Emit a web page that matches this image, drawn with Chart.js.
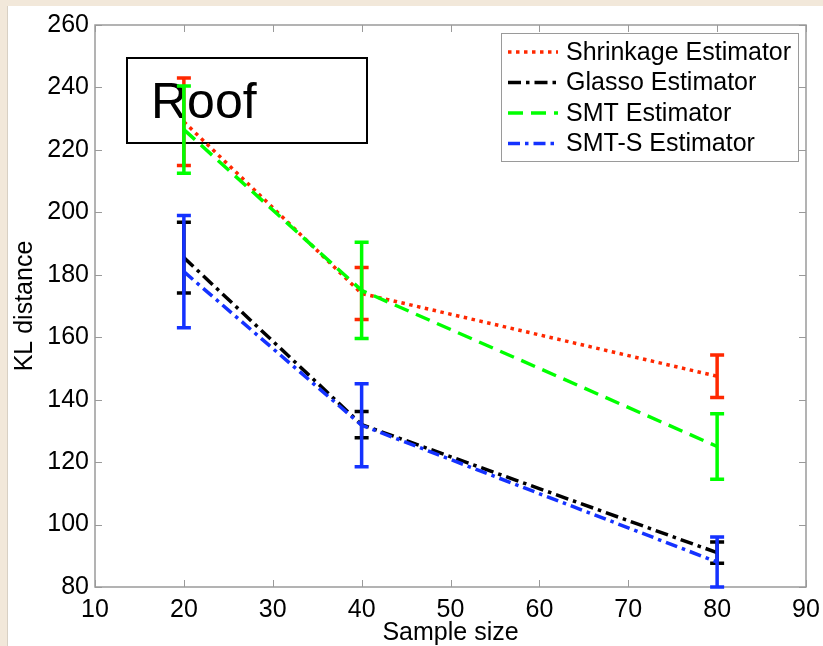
<!DOCTYPE html>
<html>
<head>
<meta charset="utf-8">
<script src="https://cdn.jsdelivr.net/npm/chart.js@4"></script>
<style>
  html, body { margin: 0; padding: 0; background: #f2e8da; }
  canvas { display: block; }
</style>
</head>
<body>
<canvas id="myChart1" width="823" height="646"></canvas>
<script>
// sample sizes and mean KL distance per estimator, with half-width of the error bars
const sampleSizes = [20, 40, 80];
const shrinkage = [229, 174, 147.5];
const shrinkageErr = [14, 8.3, 6.8];
const glasso = [185.5, 132, 91];
const glassoErr = [11.3, 4.2, 3.4];
const smt = [226.5, 175, 125];
const smtErr = [14, 15.4, 10.5];
const smtS = [181, 131.8, 88];
const smtSErr = [18, 13.3, 8];

const seriesNames = ['Shrinkage Estimator', 'Glasso Estimator', 'SMT Estimator', 'SMT-S Estimator'];
const xTicks = [10, 20, 30, 40, 50, 60, 70, 80, 90];
const yTicks = [80, 100, 120, 140, 160, 180, 200, 220, 240, 260];

const FONT = '"Liberation Sans", Arial, sans-serif';
const AXIS_GRAY = '#9a9a9a';

function points(ys) {
    return sampleSizes.map((x, i) => ({x: x, y: ys[i]}));
}

const styles = [
    {color: 'rgb(255,40,0)', dash: [3.5, 4.5]},
    {color: '#000000', dash: [13, 5, 3.5, 5]},
    {color: 'rgb(0,255,0)', dash: [15, 8]},
    {color: 'rgb(20,50,255)', dash: [12, 5, 3.5, 5]}
];
const errors = [shrinkageErr, glassoErr, smtErr, smtSErr];

// white figure panel with the beige page showing at the top and left
const panel = {
    id: 'panel',
    beforeDraw(chart) {
        const c = chart.ctx;
        c.save();
        c.fillStyle = '#ffffff';
        c.fillRect(7, 6, chart.width - 7, chart.height - 6);
        c.fillStyle = '#d8d0c4';
        c.fillRect(7, 6, 1, chart.height - 6);
        c.restore();
    }
};

// axes box with inward ticks on all four sides
const axesBox = {
    id: 'axesBox',
    beforeDatasetsDraw(chart) {
        const c = chart.ctx;
        const a = chart.chartArea;
        const xs = chart.scales.x, ys = chart.scales.y;
        c.save();
        c.strokeStyle = AXIS_GRAY;
        c.lineWidth = 1.5;
        c.strokeRect(a.left, a.top, a.right - a.left, a.bottom - a.top);
        c.lineWidth = 1;
        c.beginPath();
        xTicks.forEach(v => {
            const px = Math.round(xs.getPixelForValue(v)) + 0.5;
            c.moveTo(px, a.bottom); c.lineTo(px, a.bottom - 7);
            c.moveTo(px, a.top); c.lineTo(px, a.top + 7);
        });
        yTicks.forEach(v => {
            const py = Math.round(ys.getPixelForValue(v)) + 0.5;
            c.moveTo(a.left, py); c.lineTo(a.left + 7, py);
            c.moveTo(a.right, py); c.lineTo(a.right - 7, py);
        });
        c.stroke();

        // "Roof" annotation box
        c.strokeStyle = '#000';
        c.lineWidth = 2;
        c.strokeRect(127, 58, 240, 85);
        c.fillStyle = '#000';
        c.font = '50px ' + FONT;
        c.textBaseline = 'alphabetic';
        c.fillText('Roof', 151, 118);
        c.restore();
    }
};

// vertical error bars with caps, drawn right after each series' line
const errorBars = {
    id: 'errorBars',
    afterDatasetDraw(chart, args) {
        const i = args.index;
        const c = chart.ctx;
        const xs = chart.scales.x, ys = chart.scales.y;
        const ds = chart.data.datasets[i];
        c.save();
        c.strokeStyle = ds.borderColor;
        c.lineWidth = 3.5;
        c.setLineDash([]);
        c.beginPath();
        ds.data.forEach((p, k) => {
            const px = xs.getPixelForValue(p.x);
            const top = ys.getPixelForValue(p.y + errors[i][k]);
            const bot = ys.getPixelForValue(p.y - errors[i][k]);
            c.moveTo(px, top); c.lineTo(px, bot);
            c.moveTo(px - 7, top); c.lineTo(px + 7, top);
            c.moveTo(px - 7, bot); c.lineTo(px + 7, bot);
        });
        c.stroke();
        c.restore();
    }
};

// legend box in the upper right corner
const legendBox = {
    id: 'legendBox',
    afterDraw(chart) {
        const c = chart.ctx;
        c.save();
        c.fillStyle = '#fff';
        c.fillRect(501, 33, 297, 128);
        c.strokeStyle = AXIS_GRAY;
        c.lineWidth = 1;
        c.strokeRect(501.5, 33.5, 297, 128);
        c.font = '25px ' + FONT;
        c.textBaseline = 'middle';
        chart.data.datasets.forEach((ds, i) => {
            const y = 52 + i * 30.5;
            c.strokeStyle = ds.borderColor;
            c.lineWidth = 3.5;
            c.setLineDash(ds.borderDash);
            c.beginPath();
            c.moveTo(508, y); c.lineTo(558, y);
            c.stroke();
            c.fillStyle = '#000';
            c.fillText(ds.label, 566, y + 1);
        });
        c.restore();
    }
};

const seriesData = [shrinkage, glasso, smt, smtS];

new Chart(document.getElementById('myChart1'), {
    type: 'line',
    data: {
        datasets: seriesData.map((ys, i) => ({
            label: seriesNames[i],
            data: points(ys),
            borderColor: styles[i].color,
            borderDash: styles[i].dash,
            borderWidth: 3.5,
            pointRadius: 0,
            fill: false,
            tension: 0,
            order: 4 - i
        }))
    },
    options: {
        responsive: false,
        animation: false,
        devicePixelRatio: 1,
        layout: {padding: {left: 7, top: 25, right: 17, bottom: 0}},
        plugins: {legend: {display: false}, tooltip: {enabled: false}},
        scales: {
            x: {
                type: 'linear',
                min: 10, max: 90,
                afterBuildTicks: s => { s.ticks = xTicks.map(v => ({value: v})); },
                afterFit: s => { s.height = 59; s.paddingLeft = 0; s.paddingRight = 0; },
                grid: {display: false, drawTicks: false},
                border: {display: false},
                ticks: {color: '#000', padding: 8, font: {family: FONT, size: 25}},
                title: {display: true, text: 'Sample size', color: '#000',
                        font: {family: FONT, size: 25, lineHeight: 1}, padding: {top: 0, bottom: 0}}
            },
            y: {
                min: 80, max: 260,
                afterBuildTicks: s => { s.ticks = yTicks.map(v => ({value: v})); },
                afterFit: s => { s.width = 88; s.paddingTop = 0; s.paddingBottom = 0; },
                grid: {display: false, drawTicks: false},
                border: {display: false},
                ticks: {color: '#000', padding: 6, font: {family: FONT, size: 25}},
                title: {display: true, text: 'KL distance', color: '#000',
                        font: {family: FONT, size: 25, lineHeight: 1}, padding: {top: 5.5, bottom: 0}}
            }
        }
    },
    plugins: [panel, axesBox, errorBars, legendBox]
});
</script>
</body>
</html>
